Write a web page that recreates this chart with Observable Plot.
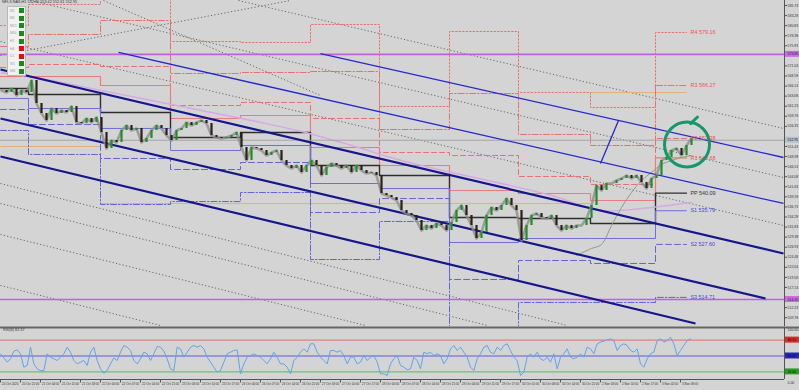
<!DOCTYPE html>
<html><head><meta charset="utf-8">
<script src="https://cdn.jsdelivr.net/npm/d3@7"></script>
<script src="https://cdn.jsdelivr.net/npm/@observablehq/plot@0.6"></script>
<style>
body{margin:0;background:#d4d4d4;}
#wrap{position:relative;width:799px;height:390px;background:#d4d4d4;overflow:hidden;font-family:"Liberation Sans",sans-serif;}
#main{position:absolute;left:0;top:0;}
#rsi{position:absolute;left:0;top:326px;}
.t{position:absolute;white-space:nowrap;color:#333;}
#legend{position:absolute;left:7px;top:6px;width:19px;height:70px;background:#f2f2f2;border:1px solid #b8b8b8;box-sizing:border-box;}
.lg{position:absolute;left:2px;font-size:3.4px;color:#9a9a9a;}
.sq{position:absolute;left:11px;width:5px;height:5px;}
</style></head><body>
<div id="wrap"><div id="main"></div><div id="rsi"></div>
<div class="t" style="left:2px;top:0px;font-size:3.8px;">NFLX.NAS,H1  552.80 553.42 552.61 552.95</div>
<div id="legend"></div>
<div class="t" style="left:3px;top:328px;font-size:3.8px;">RSI(8) 82.37</div>
</div>
<script>
// ---------------- data ----------------
const closes = [565.05,564.56,565.54,563.83,565.05,564.56,567.48,561.89,559.45,557.75,
560.67,559.45,560.18,559.70,561.16,557.26,557.02,558.24,557.26,558.48,
554.83,550.94,552.88,552.40,555.32,556.53,555.32,555.80,552.40,553.37,
555.32,556.53,555.80,554.10,552.88,555.32,555.80,557.26,556.53,557.26,
557.75,557.02,554.10,553.61,553.37,553.61,554.10,554.83,551.18,548.02,
551.18,550.94,550.45,549.23,549.96,550.45,548.02,546.80,546.07,546.80,
545.10,546.80,548.02,546.80,544.37,546.31,547.29,546.80,546.07,546.80,
545.10,546.80,545.58,544.85,545.10,544.37,539.99,539.50,539.01,538.29,
535.85,535.12,534.63,533.42,530.98,532.20,531.47,532.69,532.20,530.98,
532.93,535.85,537.07,534.63,532.20,529.04,530.50,534.63,536.58,535.85,
537.07,538.77,537.07,535.85,528.55,532.20,534.63,535.12,534.15,533.90,
534.63,532.20,530.98,532.20,531.47,532.20,532.20,533.90,537.07,541.93,
540.72,542.42,542.42,543.15,543.64,544.37,543.64,544.37,542.66,541.20,
543.64,544.37,548.02,548.75,550.45,550.94,549.23,551.67,553.37];

const rsiValues = [54.1,46.5,38.4,44.7,59.1,61.6,54.1,28.9,32.1,66.7,
35.2,25.8,22.6,22.6,54.1,47.8,44.7,41.5,47.8,54.1,
66.7,57.2,41.5,35.2,38.4,41.5,32.1,57.2,66.7,41.5,
25.8,17.6,22.6,35.2,46.5,41.5,57.2,69.8,66.7,60.4,
41.5,35.2,44.7,57.2,54.1,41.5,54.1,67.9,66.7,59.1,
44.7,25.8,22.6,66.7,63.5,47.8,57.2,66.7,69.8,66.7,
69.8,63.5,47.8,38.4,28.9,19.5,22.6,38.4,54.1,57.2,
60.4,61.6,16.4,35.2,47.8,50.9,54.1,50.9,47.8,41.5,
35.2,44.7,57.2,47.8,35.2,35.2,28.9,16.4,41.5,47.8,
57.2,63.5,57.2,73.0,73.0,57.2,47.8,41.5,35.2,60.4,
60.4,57.2,60.4,50.9,35.2,47.8,47.8,35.2,38.4,50.9,
41.5,47.8,50.9,38.4,16.4,16.4,13.2,35.2,44.7,50.9,
32.1,28.9,23.9,25.8,47.8,41.5,25.8,57.2,54.1,57.2,
50.9,54.1,50.9,35.2,44.7,63.5,69.8,60.4,66.7,57.2,
47.8,28.9,22.6,44.7,54.1,66.7,69.8,57.2,54.1,66.7,
60.4,69.8,73.0,60.4,47.8,41.5,13.2,19.5,47.8,54.1,
47.8,57.2,44.7,41.5,47.8,38.4,54.1,25.8,47.8,54.1,
63.5,47.8,44.7,47.8,54.1,47.8,66.7,63.5,54.1,73.0,
76.1,78.0,80.5,82.4,79.2,60.4,69.8,73.0,69.8,60.4,
57.2,63.5,35.2,28.9,44.7,54.1,57.2,79.2,82.4,76.1,
79.2,85.5,73.0,50.9,60.4,69.8,79.2,82.4];
const rsiLevels = [80, 50, 20];

// daily pivot levels (one value per day)
const dayStarts = [-0.2, 5.4, 19.8, 33.8, 47.8, 61.8, 75.6, 89.6, 103.4, 117.8, 130.8];
const dayEnd = 137;
const R4 = [580.87,585.98,593.27,576.97,576.73,581.11,561.16,579.41,564.56,560.92,579.16];
const R3 = [575.76,578.68,582.08,569.19,569.43,569.67,555.56,564.32,554.35,551.67,566.27];
const R2 = [570.65,571.38,570.89,561.40,562.13,558.24,549.97,549.24,544.13,542.18,553.38];
const R1 = [568.46,568.46,566.27,558.24,558.97,551.18,546.80,540.72,539.99,538.29,548.68];
const PP = [565.54,564.08,559.70,553.62,554.83,546.80,544.37,534.15,533.91,532.69,540.09];
const S1 = [563.11,560.67,555.81,550.45,551.67,542.42,541.21,528.07,529.04,529.04,535.79];
const S2 = [560.43,556.78,548.51,545.83,547.53,535.37,538.77,519.07,523.69,522.96,527.60];
const S3 = [555.32,549.48,537.31,538.04,540.23,523.93,533.18,503.98,513.47,513.47,514.71];

// weekly level (orange)
const weekStarts = [-0.2, 19.8, 117.8];
const weekEnds = [19.8, 117.8, 137];
const weekVals = [551.43, 537.55, 564.56];

// moving averages
const maIdx = [0,10,20,30,40,50,60,70,80,90,100,110,120,128,138];
const maVals = [569.43,567.48,565.05,562.62,560.18,557.75,555.07,551.67,548.02,545.10,542.42,539.50,535.85,536.34,537.80];
const ma2Idx = [115,118,120,122,124,126,128,130,132,134,136,138];
const ma2Vals = [524.91,526.61,527.58,532.20,536.58,540.23,543.15,545.10,547.05,548.02,548.75,549.24];

// trend lines [x1, price1, x2, price2]
const channelLines = [[-0.2,570.16,156.4,525.39],[-0.2,558.24,152.8,514.44],[-0.2,548.99,138.8,508.36]];
const blueLines = [[63.8,574.05,156.4,548.75],[23.4,574.30,156.4,537.56],[119.8,547.29,123.4,557.75]];
const dottedLines = [[47.4,586.95,156.4,555.81],[5.8,586.95,156.4,543.88],[-0.2,576.97,156.4,532.21],
  [-0.2,517.61,31.8,507.87],[-0.2,530.02,72.8,507.87],[-0.2,537.56,97.2,507.87],[-0.2,542.42,113.2,507.87],
  [20.4,586.95,63.8,563.84],[-0.2,573.57,57.8,586.95]];
const hLines = [573.85, 514.20];
const bid = 552.95;

const priceTicks = [585.73,583.28,580.83,578.38,575.93,571.03,568.58,566.13,563.68,561.23,558.78,556.33,
  551.43,548.98,546.53,544.08,541.63,539.18,536.73,534.28,531.83,529.38,526.93,524.48,522.03,519.58,517.13,512.23,509.78];
const timeTickIdx = [0,4,8,12,16,20,24,28,32,36,40,44,48,52,56,60,64,68,72,76,80,84,88,92,96,100,104,108,112,116,120,124,128,132,136];
const timeLabels = ["20 Oct 2020","20 Oct 21:00","21 Oct 04:00","21 Oct 11:00","21 Oct 18:00","22 Oct 00:00","22 Oct 07:00",
 "22 Oct 14:00","22 Oct 21:00","23 Oct 03:00","23 Oct 10:00","23 Oct 17:00","26 Oct 00:00","26 Oct 07:00","26 Oct 14:00",
 "26 Oct 21:00","27 Oct 03:00","27 Oct 10:00","27 Oct 17:00","28 Oct 00:00","28 Oct 07:00","28 Oct 14:00","28 Oct 21:00",
 "29 Oct 04:00","29 Oct 11:00","29 Oct 17:00","30 Oct 01:00","30 Oct 08:00","30 Oct 14:00","30 Oct 21:00","2 Nov 03:00",
 "2 Nov 10:00","2 Nov 17:00","3 Nov 02:00","3 Nov 09:00"];
const tfNames = ["M1","M5","M15","M30","H1","H4","D1","W1","MN"];
const tfUp = [true,true,true,true,true,false,false,true,true];
const circleAt = [137.1, 551.91];
const circleHook = [[137.8, 557.0],[139.2, 558.6]];

// ---------------- styles ----------------
const X0 = -0.2, X1 = 159.6, AX = 156.6;
const FONT = "Liberation Sans";
const levelStyles = [
  {name:"R4", vals:R4, stroke:"#ec6e6e", dash:"1.5,2", w:1, label:"#e85656"},
  {name:"R3", vals:R3, stroke:"#ec6e6e", dash:"6,2,1.5,2", w:1, label:"#e85656"},
  {name:"R2", vals:R2, stroke:"#ec6e6e", dash:"5,3", w:1, label:"#e85656"},
  {name:"R1", vals:R1, stroke:"#ee7a7a", dash:null, w:1.2, label:"#e85656"},
  {name:"PP", vals:PP, stroke:"#2e2e2e", dash:null, w:1.4, label:"#333333"},
  {name:"S1", vals:S1, stroke:"#6d6de0", dash:null, w:1, label:"#4646d0"},
  {name:"S2", vals:S2, stroke:"#6262da", dash:"6,3", w:1, label:"#4646d0"},
  {name:"S3", vals:S3, stroke:"#6262da", dash:"6,2,1.5,2", w:1, label:"#4646d0"}
];
function stepPts(vals){const p = dayStarts.map((s,k)=>[s, vals[k]]); p.push([dayEnd, vals[vals.length-1]]); return p;}
const bars = closes.map((c,i)=>({i, o: i ? closes[i-1] : c, c}));
const pxY = 0.24331; // price units per pixel in main panel

const mainMarks = [
  Plot.link(dottedLines, {x1:d=>d[0], y1:d=>d[1], x2:d=>d[2], y2:d=>d[3], stroke:"#666", strokeWidth:1, strokeDasharray:"1.2,2.2", clip:true}),
  Plot.link(weekVals.map((v,k)=>[weekStarts[k], weekEnds[k], v]), {x1:d=>d[0], x2:d=>d[1], y1:d=>d[2], y2:d=>d[2], stroke:"#e2b46a", strokeWidth:1}),
  ...levelStyles.map(L => Plot.line(stepPts(L.vals), {curve:"step-after", stroke:L.stroke, strokeWidth:L.w, strokeDasharray:L.dash, clip:true})),
  Plot.line(maIdx.map((x,k)=>[x, maVals[k]]), {stroke:"#d9a6e6", strokeWidth:1.4, curve:"catmull-rom"}),
  Plot.line(ma2Idx.map((x,k)=>[x, ma2Vals[k]]), {stroke:"#8e9c86", strokeWidth:1, curve:"catmull-rom"}),
  Plot.ruleY([bid], {x1:X0, x2:AX, stroke:"#a4a4a4", strokeWidth:1}),
  Plot.ruleY(hLines, {x1:X0, x2:AX, stroke:"#c45ee2", strokeWidth:1.6}),
  Plot.link(blueLines, {x1:d=>d[0], y1:d=>d[1], x2:d=>d[2], y2:d=>d[3], stroke:"#2626cf", strokeWidth:1.3}),
  Plot.link(channelLines, {x1:d=>d[0], y1:d=>d[1], x2:d=>d[2], y2:d=>d[3], stroke:"#15158c", strokeWidth:2.2}),
  Plot.line(bars, {x:"i", y:"c", stroke:"#8e8e8e", strokeWidth:2.6, strokeOpacity:0.8}),
  Plot.ruleX(bars, {x:"i", y1:"o", y2:"c", stroke:d=> d.c >= d.o ? "#1d8f25" : "#2c1f16", strokeWidth:2.2}),
  Plot.text(levelStyles, {x:137.8, y:d=>d.vals[d.vals.length-1], text:d=>d.name+" "+d.vals[d.vals.length-1].toFixed(2),
    fill:d=>d.label, fontSize:5.4, textAnchor:"start", fontFamily:FONT}),
  Plot.dot([circleAt], {x:d=>d[0], y:d=>d[1], r:22.5, stroke:"#14976b", strokeWidth:3, fill:"none"}),
  Plot.line(circleHook, {stroke:"#14976b", strokeWidth:3}),
  // right price axis
  Plot.ruleX([AX], {stroke:"#555", strokeWidth:1}),
  Plot.link(priceTicks, {x1:AX, x2:AX+0.5, y1:d=>d, y2:d=>d, stroke:"#555"}),
  Plot.text(priceTicks, {x:AX+0.6, y:d=>d, text:d=>d.toFixed(2), fontSize:3.5, textAnchor:"start", fill:"#333", fontFamily:FONT}),
  Plot.rect(hLines, {x1:AX+0.2, x2:X1, y1:d=>d-3.0*pxY, y2:d=>d+3.0*pxY, fill:"#cc6ae8"}),
  Plot.rect([bid], {x1:AX+0.2, x2:X1, y1:d=>d-3.0*pxY, y2:d=>d+3.0*pxY, fill:"#b4c0cc"}),
  Plot.text([...hLines, bid], {x:AX+0.6, y:d=>d, text:d=>d.toFixed(2), fontSize:3.5, textAnchor:"start", fill:"#222", fontFamily:FONT})
];

const main = Plot.plot({
  width:799, height:326, margin:0,
  x:{domain:[X0, X1], axis:null},
  y:{domain:[507.63, 586.95], axis:null},
  color:{type:"identity"},
  style:{background:"transparent"},
  marks: mainMarks
});
document.getElementById("main").appendChild(main);

const rsiScale = 0.53;
const rsiColors = ["#e86a6a", "#5d5dd6", "#5db85d"];
const rsiBox = ["#e02828", "#2424c0", "#24a024"];
const rsiPlot = Plot.plot({
  width:799, height:64, margin:0,
  x:{domain:[X0, X1], axis:null},
  y:{domain:[-15.09, 105.66], axis:null},
  color:{type:"identity"},
  style:{background:"transparent"},
  marks:[
    Plot.ruleY([103.77], {x1:X0, x2:X1, stroke:"#666", strokeWidth:2}),
    Plot.ruleY(rsiLevels, {x1:X0, x2:AX, stroke:(d,k)=>rsiColors[k], strokeWidth:1}),
    Plot.line(rsiValues, {x:(d,k)=>k*2/3-0.2, y:d=>d, stroke:"#5ea4ee", strokeWidth:1}),
    Plot.ruleY([5.66], {x1:X0, x2:AX, stroke:"#555", strokeWidth:1}),
    Plot.ruleX([AX], {y1:5.66, y2:103.77, stroke:"#555"}),
    Plot.rect(rsiLevels, {x1:AX+0.2, x2:X1, y1:d=>d-3.0/rsiScale, y2:d=>d+3.0/rsiScale, fill:(d,k)=>rsiBox[k]}),
    Plot.text(rsiLevels, {x:AX+0.6, y:d=>d, text:d=>d.toFixed(2), fontSize:3.5, textAnchor:"start", fill:"#111", fontFamily:FONT}),
    Plot.text([100, 0], {x:AX+0.6, y:d=>d, text:d=>d.toFixed(2), fontSize:3.5, textAnchor:"start", fill:"#333", fontFamily:FONT}),
    Plot.link(timeTickIdx, {x1:d=>d-0.2, x2:d=>d-0.2, y1:5.66, y2:0, stroke:"#555"}),
    Plot.text(timeTickIdx, {x:d=>d+0.1, y:-3.77, text:(d,k)=>timeLabels[k], fontSize:3.0, textAnchor:"start", fill:"#333", fontFamily:FONT})
  ]
});
document.getElementById("rsi").appendChild(rsiPlot);

// timeframe legend
const lg = document.getElementById("legend");
tfNames.forEach((n,k)=>{
  const t = document.createElement("div"); t.className="lg"; t.style.top=(1.5+k*7.6)+"px"; t.textContent=n; lg.appendChild(t);
  const s = document.createElement("div"); s.className="sq"; s.style.top=(1.2+k*7.6)+"px";
  s.style.background = tfUp[k] ? "#1a8a1a" : "#e01010"; lg.appendChild(s);
});
</script>
</body></html>
